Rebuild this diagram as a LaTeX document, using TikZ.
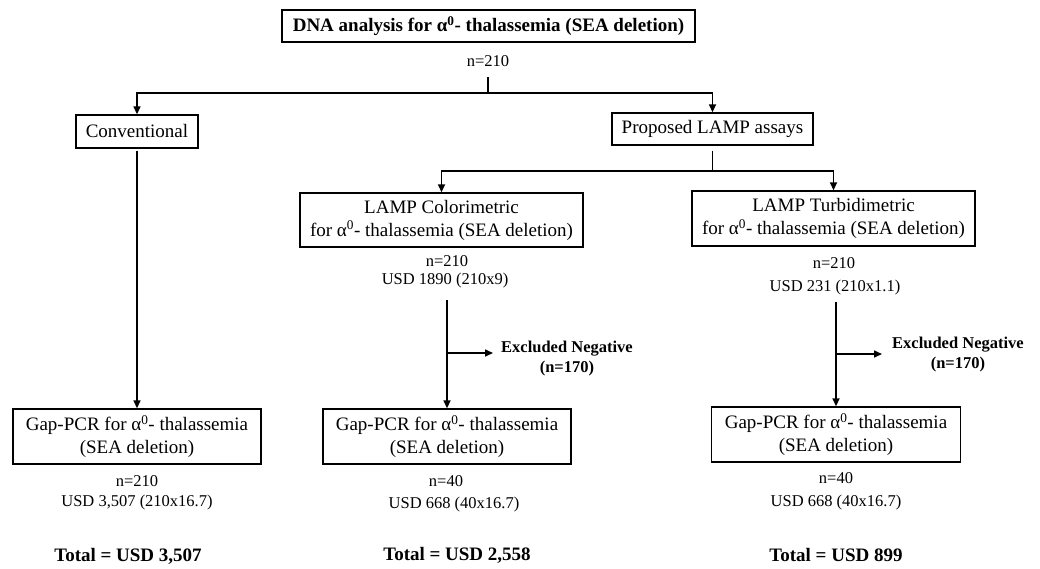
\documentclass[tikz,border=0pt]{standalone}
\usepackage{fontspec}
\setmainfont{Liberation Serif}
\usetikzlibrary{arrows.meta}
\begin{document}
\begin{tikzpicture}[x=1pt,y=-1pt,
  box/.style={draw, line width=1.4pt, inner sep=0pt, align=center, font=\fontsize{19}{23}\selectfont},
  note/.style={inner sep=0pt, align=center, font=\fontsize{16.5}{20}\selectfont},
  excl/.style={inner sep=0pt, align=center, font=\fontsize{16.5}{20}\selectfont\bfseries},
  total/.style={inner sep=0pt, font=\fontsize{19}{23}\selectfont\bfseries},
  conn/.style={line width=1.6pt},
  arr/.style={conn, -{Triangle[length=8pt,width=7pt]}}]
\useasboundingbox (0,0) rectangle (1040,569);

% top
\node[box, font=\fontsize{19}{23}\selectfont\bfseries, minimum width=413pt, minimum height=32pt] (top) at (488.5,26) {DNA analysis for α\textsuperscript{0}- thalassemia (SEA deletion)};
\node[note] (n0) at (488,61) {n=210};
\coordinate (j0) at (488,77);
\coordinate (j1) at (488,93);

\node[box, minimum width=122pt, minimum height=33pt] (conv) at (137,131.5) {Conventional};
\node[box, minimum width=201pt, minimum height=32pt] (prop) at (712.5,129) {Proposed LAMP assays};
\draw[conn] (j0) -- (j1);
\draw[arr] (j1) -| (conv.north);
\draw[arr] (j1) -| (prop.north);

\coordinate (j2) at (712.5,171);
\draw[conn, shorten <=5pt] (prop.south) -- (j2);

\node[box, minimum width=283pt, minimum height=54pt] (colo) at (441.5,220) {LAMP Colorimetric\\for α\textsuperscript{0}- thalassemia (SEA deletion)};
\node[box, minimum width=283pt, minimum height=55pt] (turb) at (833.5,218.5) {LAMP Turbidimetric\\for α\textsuperscript{0}- thalassemia (SEA deletion)};
\draw[arr] (j2) -| (colo.north);
\draw[arr] (j2) -| (turb.north);

\node[note] (cn) at (447,261) {n=210};
\node[note] (cu) at (445,281) {USD 1890 (210x9)};
\node[note] (tn) at (834,263) {n=210};
\node[note] (tu) at (835,288) {USD 231 (210x1.1)};

% Gap-PCR boxes
\node[box, minimum width=248pt, minimum height=55pt] (gapL) at (137,436.5) {Gap-PCR for α\textsuperscript{0}- thalassemia\\(SEA deletion)};
\node[box, minimum width=248pt, minimum height=55pt] (gapM) at (447,436.5) {Gap-PCR for α\textsuperscript{0}- thalassemia\\(SEA deletion)};
\node[box, minimum width=249pt, minimum height=55pt] (gapR) at (836,434.5) {Gap-PCR for α\textsuperscript{0}- thalassemia\\(SEA deletion)};

\draw[arr, shorten <=2pt] (conv.south) -- (gapL.north);

\coordinate (c1) at (447,300);
\draw[arr] (c1) -- (gapM.north);
\coordinate (b1) at (447,353);
\node[excl, anchor=west] (exM) at (501,359) {Excluded Negative\\(n=170)};
\draw[arr, shorten >=8pt] (b1) -- (b1 -| exM.west);

\coordinate (c2) at (836,302);
\draw[arr] (c2) -- (gapR.north);
\coordinate (b2) at (836,354);
\node[excl, anchor=west] (exR) at (892,355) {Excluded Negative\\(n=170)};
\draw[arr, shorten >=10pt] (b2) -- (b2 -| exR.west);

% notes below
\node[note] (ln) at (137,481) {n=210};
\node[note] (lu) at (137,503) {USD 3,507 (210x16.7)};
\node[note] (mn) at (446,481) {n=40};
\node[note] (mu) at (454,505) {USD 668 (40x16.7)};
\node[note] (rn) at (836,478) {n=40};
\node[note] (ru) at (836,503) {USD 668 (40x16.7)};

\node[total] (tl) at (128,556) {Total = USD 3,507};
\node[total] (tm) at (457,555) {Total = USD 2,558};
\node[total] (tr) at (836,555) {Total = USD 899};
\end{tikzpicture}
\end{document}
